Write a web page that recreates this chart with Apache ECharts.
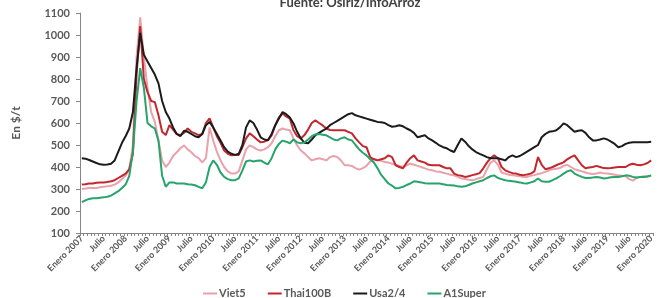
<!DOCTYPE html>
<html>
<head>
<meta charset="utf-8">
<script src="https://cdn.jsdelivr.net/npm/echarts@6/dist/echarts.min.js"></script>
<style>
html,body{margin:0;padding:0;background:#fff;}
#chart{width:662px;height:298px;}
</style>
</head>
<body>
<div id="chart"></div>
<script>
const titleText = 'Fuente: Osiriz/InfoArroz';
const yAxisName = 'En $/t';
const monthNames = ['Enero','Febrero','Marzo','Abril','Mayo','Junio','Julio','Agosto','Septiembre','Octubre','Noviembre','Diciembre'];
const years = [2007,2008,2009,2010,2011,2012,2013,2014,2015,2016,2017,2018,2019,2020];
const seriesNames = ['Viet5','Thai100B','Usa2/4','A1Super'];

const viet5 = [
300,302,305,305,305,308,310,312,315,320,
330,345,360,390,500,900,1080,900,760,650,
605,520,430,400,420,450,467,485,498,480,
467,450,440,421,440,580,520,470,430,400,
380,370,370,380,430,480,498,490,480,475,
480,490,508,540,567,575,570,567,530,498,
475,462,445,430,435,440,435,430,445,450,
445,430,408,408,405,395,388,395,405,425,
438,432,428,423,420,415,410,405,400,408,
415,410,405,400,394,388,385,380,378,374,
370,365,362,355,348,345,342,340,345,350,
355,390,420,430,410,375,370,365,363,360,
358,355,355,360,363,368,372,378,385,390,
392,395,405,410,400,390,385,380,375,370,
368,370,375,372,370,368,365,362,360,358,
345,338,350,355,358,355,360];

const thai100B = [
320,322,325,325,328,330,330,332,335,340,
350,360,370,390,460,820,1040,800,740,700,
695,635,560,545,590,570,550,545,555,575,
560,553,545,550,600,621,580,540,510,475,
460,453,455,455,490,530,553,540,525,512,
515,522,544,590,625,643,630,620,567,540,
530,545,570,600,612,600,589,575,568,567,
567,567,567,560,553,530,512,495,490,445,
435,430,435,440,453,445,408,400,394,420,
440,453,430,425,420,410,408,408,408,400,
394,394,370,363,360,355,358,363,367,372,
394,420,440,453,440,400,385,378,372,370,
365,363,366,370,380,445,410,390,394,400,
408,415,421,435,445,453,430,408,394,398,
400,405,400,395,394,395,398,400,400,400,
410,415,410,408,412,418,430];

const usa24 = [
440,438,432,425,418,412,410,411,415,430,
470,510,540,575,650,850,1010,910,880,850,
820,780,700,650,620,580,550,540,565,560,
550,540,535,550,590,605,580,550,520,490,
470,460,455,460,500,580,612,600,570,535,
525,522,550,590,620,650,640,625,598,560,
530,510,508,525,545,555,565,575,590,600,
610,620,630,640,645,635,630,625,620,615,
610,605,603,600,590,583,585,590,585,575,
567,555,535,540,544,530,521,510,498,490,
485,475,468,500,530,515,495,480,468,460,
453,445,440,440,440,435,430,445,453,445,
450,460,470,480,490,500,535,550,560,562,
567,580,598,590,575,560,565,567,555,535,
521,521,525,530,525,515,505,490,495,505,
510,512,512,512,512,513,515];

const a1Super = [
240,248,255,258,258,260,262,265,270,280,
290,305,320,360,470,700,849,760,600,585,
575,520,360,310,330,330,325,325,325,322,
320,317,310,303,330,400,430,410,375,355,
345,340,340,348,385,425,430,425,428,430,
420,412,440,480,505,520,515,508,525,512,
508,512,525,540,548,550,547,544,535,525,
521,530,535,525,521,500,480,465,453,435,
421,395,365,345,325,315,303,305,310,318,
325,335,333,330,326,325,325,325,325,322,
318,317,316,312,310,312,318,325,330,335,
340,350,358,362,350,345,340,337,335,333,
330,326,325,330,335,348,335,333,333,340,
348,358,370,380,385,370,362,355,350,350,
352,355,352,348,350,353,355,355,358,362,
360,355,352,355,355,358,362];

const categories = [];
years.forEach(function(y){
  monthNames.forEach(function(m){
    if (y === 2020 && m !== 'Enero') return;
    categories.push(m + ' ' + y);
  });
});

const colors = ['#e9a1ab','#c1272d','#1b1b1b','#27a46b'];
const dataSets = [viet5, thai100B, usa24, a1Super];
const textColor = '#595959';
const font = 'Lato';

const chart = echarts.init(document.getElementById('chart'));
chart.setOption({
  animation: false,
  backgroundColor: '#fff',
  title: {
    text: titleText,
    left: 345,
    textAlign: 'center',
    top: -9,
    textStyle: {fontFamily: font, fontWeight: 'bold', fontSize: 13, color: '#404040'}
  },
  legend: {
    data: seriesNames,
    top: 283,
    left: 198,
    icon: 'rect',
    itemWidth: 14,
    itemHeight: 2,
    itemGap: 22,
    textStyle: {fontFamily: font, fontWeight: 'bold', fontSize: 11, color: textColor, padding: [0,0,0,-3]}
  },
  grid: {left: 80, right: 9, top: 13, bottom: 65, containLabel: false},
  xAxis: {
    type: 'category',
    data: categories,
    boundaryGap: true,
    axisLine: {lineStyle: {color: '#868686', width: 1}},
    axisTick: {show: true, interval: 0, length: 3, lineStyle: {color: '#868686'}},
    axisLabel: {
      interval: 5,
      rotate: 45,
      fontFamily: font,
      fontWeight: 'bold',
      fontSize: 9,
      color: textColor,
      margin: 4,
      formatter: function(v){ return v.indexOf('Julio') === 0 ? 'Julio' : v; }
    },
    splitLine: {show: false}
  },
  yAxis: {
    type: 'value',
    min: 100,
    max: 1100,
    interval: 100,
    name: yAxisName,
    nameLocation: 'middle',
    nameGap: 58,
    nameTextStyle: {fontFamily: font, fontWeight: 'bold', fontSize: 12, color: textColor},
    axisLine: {show: true, lineStyle: {color: '#868686', width: 1}},
    axisTick: {show: true, length: 4, lineStyle: {color: '#868686'}},
    axisLabel: {fontFamily: font, fontWeight: 'bold', fontSize: 11, color: textColor, margin: 10,
      formatter: function(v){ return String(v); }},
    splitLine: {show: false}
  },
  series: seriesNames.map(function(n, k){
    return {
      name: n,
      type: 'line',
      data: dataSets[k],
      symbol: 'none',
      smooth: false,
      lineStyle: {width: 2, color: colors[k]},
      itemStyle: {color: colors[k]}
    };
  })
});
</script>
</body>
</html>
